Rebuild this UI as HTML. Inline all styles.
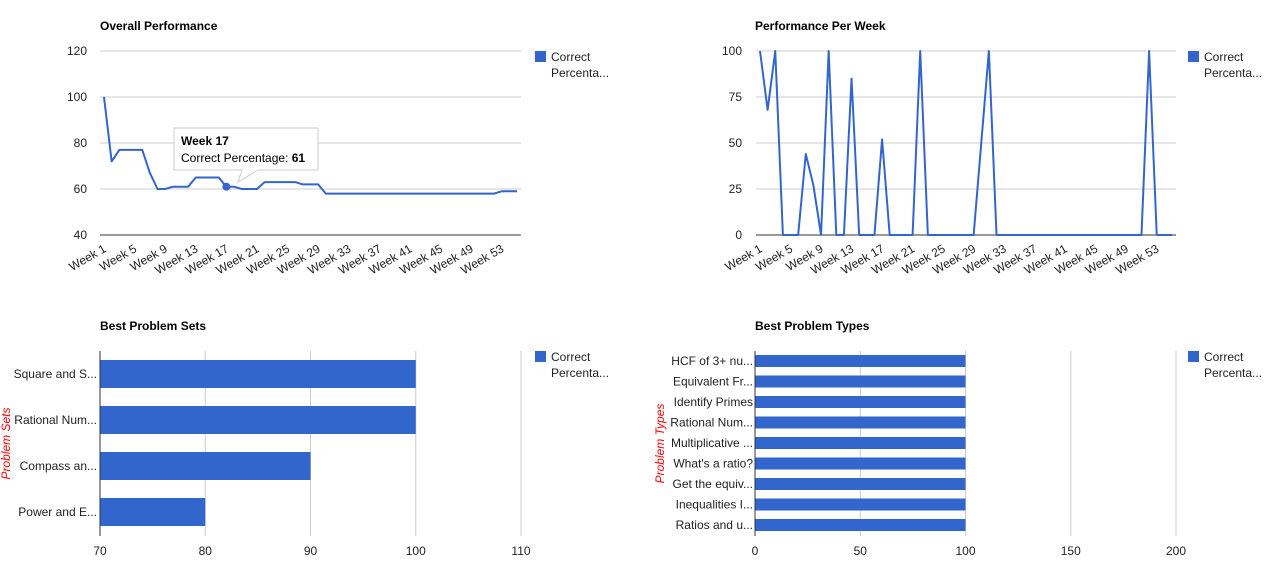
<!DOCTYPE html>
<html><head><meta charset="utf-8"><style>
html,body{margin:0;padding:0;background:#fff;}
svg{display:block;font-family:"Liberation Sans",Arial,sans-serif;font-size:12px;}
</style></head><body>
<svg id="s" width="1271" height="571"></svg>
<script>
const weeks = Array.from({length:55},(_,i)=>'Week '+(i+1));
const overallValues = [100,72,77,77,77,77,67,60,60,61,61,61,65,65,65,65,61,61,60,60,60,63,63,63,63,63,62,62,62,58,58,58,58,58,58,58,58,58,58,58,58,58,58,58,58,58,58,58,58,58,58,58,59,59,59];
const perWeekValues = [100,68,100,0,0,0,44,27,0,100,0,0,85,0,0,0,52,0,0,0,0,100,0,0,0,0,0,0,0,50,100,0,0,0,0,0,0,0,0,0,0,0,0,0,0,0,0,0,0,0,0,100,0,0,0];
const overallTicks = [40,60,80,100,120];
const perWeekTicks = [0,25,50,75,100];
const setNames = ['Square and S...','Rational Num...','Compass an...','Power and E...'];
const setValues = [100,100,90,80];
const setTicks = [70,80,90,100,110];
const typeNames = ['HCF of 3+ nu...','Equivalent Fr...','Identify Primes','Rational Num...','Multiplicative ...',"What's a ratio?",'Get the equiv...','Inequalities I...','Ratios and u...'];
const typeValues = [100,100,100,100,100,100,100,100,100];
const typeTicks = [0,50,100,150,200];

const NS='http://www.w3.org/2000/svg';
const svg=document.getElementById('s');
function el(tag,attrs,parent,text){const e=document.createElementNS(NS,tag);for(const k in attrs)e.setAttribute(k,attrs[k]);if(text!==undefined)e.textContent=text;(parent||svg).appendChild(e);return e;}
const BLUE='#3366cc';

function legend(x,y){
  const g=el('g',{});
  
  
  el('rect',{x:x,y:y,width:11,height:11,fill:BLUE},g);
  el('text',{x:x+16,y:y+10,fill:'#222'},g,'Correct');
  el('text',{x:x+16,y:y+26,fill:'#222'},g,'Percenta...');
}
function title(x,y,t){
  const e=el('text',{x:x,y:y,'font-weight':'bold',fill:'#000'},svg,t);
  
  
}

function lineChart(x0,x1,yTop,yBot,ticks,vals,tickLabelX,name,tooltipIdx){
  const g=el('g',{});
  
  
  const lo=ticks[0],hi=ticks[ticks.length-1];
  const ys=v=>yBot-(v-lo)/(hi-lo)*(yBot-yTop);
  const first=x0+4,last=x1-4;
  const xs=i=>first+i*(last-first)/(vals.length-1);
  ticks.forEach(t=>{
    const l=el('line',{x1:x0,x2:x1,y1:ys(t),y2:ys(t),stroke:t===lo?'#333':'#ccc','stroke-width':1},g);
    
    const tx=el('text',{x:tickLabelX,y:ys(t)+4,'text-anchor':'end',fill:'#222'},g,String(t));
    
  });
  const p=el('polyline',{points:vals.map((v,i)=>xs(i)+','+ys(v)).join(' '),fill:'none',stroke:BLUE,'stroke-width':2,'stroke-linejoin':'round'},g);
  
  
  for(let i=0;i<weeks.length;i+=4){
    const lx=xs(i)+3,ly=yBot+16;
    const t=el('text',{x:lx,y:ly,'text-anchor':'end',fill:'#222',transform:`rotate(-30 ${lx} ${ly})`},g,weeks[i]);
    
  }
  if(tooltipIdx!==undefined){
    const px=xs(tooltipIdx),py=ys(vals[tooltipIdx]);
    const c=el('circle',{cx:px,cy:py,r:4,fill:BLUE},g);
    
    const tg=el('g',{},g);
    
    
    el('path',{d:`M174,128 H318 V170 H258 L238,182 L242,170 H174 Z`,fill:'#fff',stroke:'#ccc','stroke-width':1},tg);
    el('text',{x:181,y:145,'font-weight':'bold',fill:'#000'},tg,weeks[tooltipIdx]);
    const t2=el('text',{x:181,y:162,fill:'#000'},tg,'Correct Percentage: ');
    el('tspan',{'font-weight':'bold'},t2,String(vals[tooltipIdx]));
  }
}

function barChart(x0,x1,yTop,yBot,ticks,names,vals,barH,step,firstY,labelX,axisTitle,titleX,name){
  const g=el('g',{});
  
  
  const lo=ticks[0],hi=ticks[ticks.length-1];
  const xs=v=>x0+(v-lo)/(hi-lo)*(x1-x0);
  ticks.forEach(t=>{
    if(t!==lo){const l=el('line',{x1:xs(t),x2:xs(t),y1:yTop,y2:yBot,stroke:'#ccc'},g);}
    const tx=el('text',{x:xs(t),y:yBot+19,'text-anchor':'middle',fill:'#222'},g,String(t));
    
  });
  names.forEach((n,i)=>{
    const y=firstY+i*step;
    const r=el('rect',{x:xs(lo),y:y,width:xs(vals[i])-xs(lo),height:barH,fill:BLUE},g);
    
    
    const t=el('text',{x:labelX,y:y+barH/2+4,'text-anchor':'end',fill:'#222'},g,n);
    
  });
  el('line',{x1:x0,x2:x0,y1:yTop,y2:yBot,stroke:'#333'},g);
  const cy=(yTop+yBot)/2;
  const at=el('text',{x:titleX,y:cy,'text-anchor':'middle','font-style':'italic',fill:'#f00',transform:`rotate(-90 ${titleX} ${cy})`},g,axisTitle);
  
}

title(100,30,'Overall Performance');
title(755,30,'Performance Per Week');
title(100,330,'Best Problem Sets');
title(755,330,'Best Problem Types');
lineChart(100,521,51,235,overallTicks,overallValues,87,'overall-performance-chart',16);
lineChart(756,1176,51,235,perWeekTicks,perWeekValues,742,'performance-per-week-chart');
barChart(100,521,351,536,setTicks,setNames,setValues,28,46,360,97,'Problem Sets',10,'best-problem-sets-chart');
barChart(755,1176,351,536,typeTicks,typeNames,typeValues,12,20.5,355,753,'Problem Types',664,'best-problem-types-chart');
legend(535,51);legend(1188,51);legend(535,351);legend(1188,351);
</script>
</body></html>
